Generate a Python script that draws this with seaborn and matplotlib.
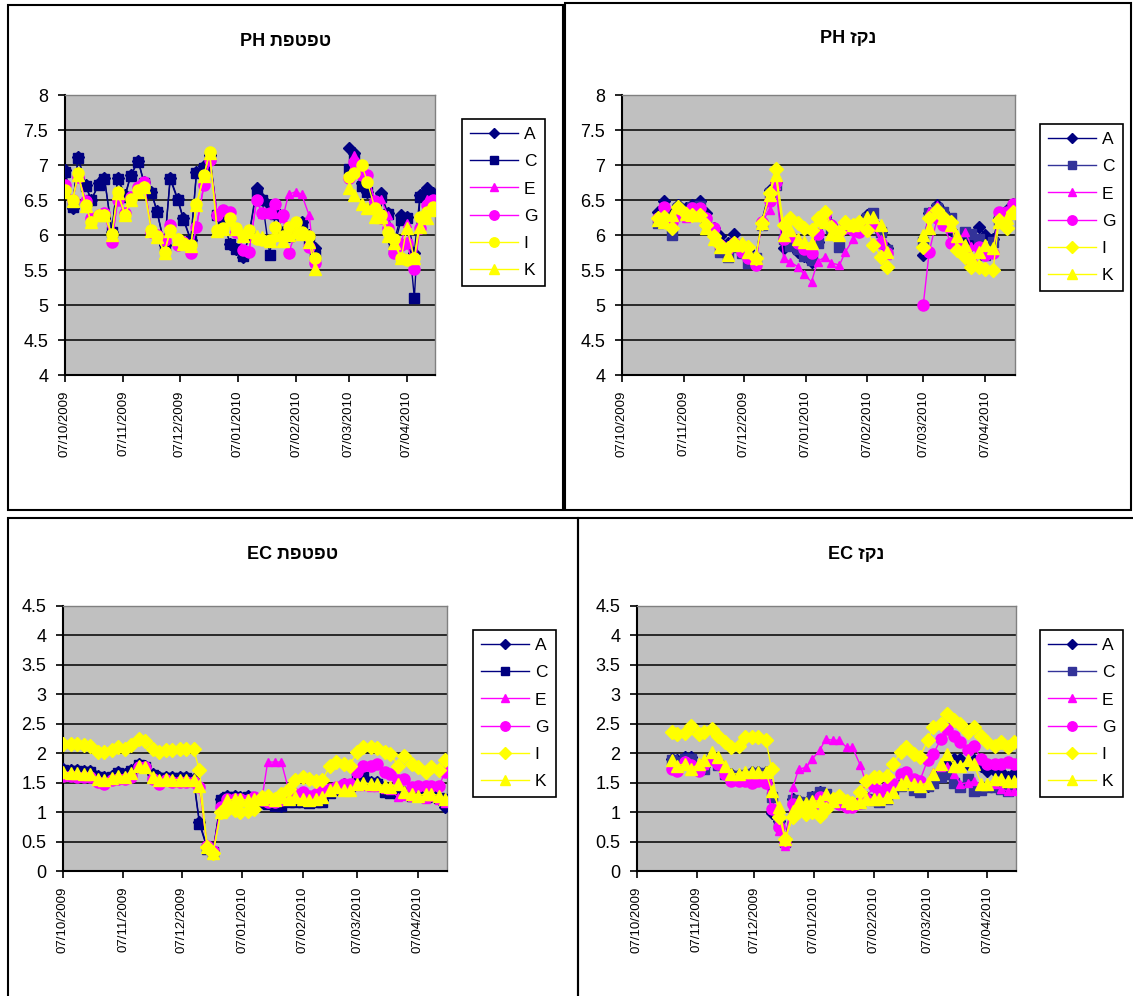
import numpy as np
import pandas as pd
import matplotlib
matplotlib.use("Agg")
import matplotlib.pyplot as plt
from matplotlib.lines import Line2D
from matplotlib.patches import Rectangle
import seaborn as sns

nan = np.nan

# measurement dates (twice a week)
dates = ['2009-10-07', '2009-10-11', '2009-10-14', '2009-10-18', '2009-10-21', '2009-10-25', '2009-10-28',
         '2009-11-01', '2009-11-04', '2009-11-08', '2009-11-11', '2009-11-15', '2009-11-18', '2009-11-22',
         '2009-11-25', '2009-11-29', '2009-12-02', '2009-12-06', '2009-12-09', '2009-12-13', '2009-12-16',
         '2009-12-20', '2009-12-23', '2009-12-27', '2009-12-30', '2010-01-03', '2010-01-06', '2010-01-10',
         '2010-01-13', '2010-01-17', '2010-01-20', '2010-01-24', '2010-01-27', '2010-01-31', '2010-02-03',
         '2010-02-07', '2010-02-10', '2010-02-14', '2010-02-17', '2010-02-21', '2010-02-24', '2010-02-28',
         '2010-03-03', '2010-03-07', '2010-03-10', '2010-03-14', '2010-03-17', '2010-03-21', '2010-03-24',
         '2010-03-28', '2010-03-31', '2010-04-04', '2010-04-07', '2010-04-11', '2010-04-14', '2010-04-18',
         '2010-04-21']

tick_dates = ['2009-10-07', '2009-11-07', '2009-12-07', '2010-01-07', '2010-02-07', '2010-03-07', '2010-04-07']
tick_labels = ['07/10/2009', '07/11/2009', '07/12/2009', '07/01/2010', '07/02/2010', '07/03/2010', '07/04/2010']

series_names = ['A', 'C', 'E', 'G', 'I', 'K']

# ---- pH, dripper (top left)
ph_drip_A = [6.93, 6.38, 7.12, 6.71, 6.50, 6.74, 6.82, 6.05, 6.82, 6.57, 6.86, 7.06, 6.76, 6.62, 6.34, 5.86, 6.82, 6.52, 6.24, 5.93,
             6.90, 6.98, 7.14, 6.29, 6.24, 5.87, 5.80, 5.69, 6.00, 6.67, 6.52, 6.43, 6.31, 6.05, 5.98, 6.05, 6.19, 6.00, 5.81,
             nan, nan, nan, nan, 7.25, 7.17, 6.74, 6.62, 6.43, 6.60, 6.31, 5.88, 6.29, 6.26, 5.74, 6.57, 6.67, 6.60]
ph_drip_C = [6.90, 6.40, 7.10, 6.70, 6.50, 6.72, 6.80, 6.05, 6.80, 6.55, 6.85, 7.05, 6.75, 6.60, 6.33, 5.85, 6.80, 6.50, 6.22, 5.92,
             6.88, 6.96, 7.12, 6.28, 6.22, 5.87, 5.80, 5.70, 6.00, 6.62, 6.50, 5.72, 6.30, 6.05, 5.98, 6.10, 6.17, 5.95, 5.72,
             nan, nan, nan, nan, 6.95, 7.10, 6.70, 6.62, 6.45, 6.55, 6.30, 5.80, 6.22, 6.25, 5.10, 6.55, 6.62, 6.55]
ph_drip_E = [6.71, 6.52, 6.85, 6.50, 6.26, 6.30, 6.32, 5.92, 6.50, 6.32, 6.56, 6.70, 6.76, 6.06, 6.00, 5.95, 6.15, 5.88, 5.90, 5.76,
             6.12, 6.72, 7.08, 6.30, 6.35, 6.32, 6.10, 5.80, 5.78, 6.50, 6.30, 6.32, 6.30, 6.25, 6.58, 6.62, 6.58, 6.28, 5.60,
             nan, nan, nan, nan, 6.85, 7.15, 6.90, 6.85, 6.50, 6.52, 6.28, 5.80, 5.90, 6.17, 5.60, 6.15, 6.52, 6.45]
ph_drip_G = [6.71, 6.50, 6.83, 6.48, 6.24, 6.29, 6.31, 5.90, 6.50, 6.31, 6.55, 6.69, 6.76, 6.05, 6.00, 5.93, 6.14, 5.86, 5.90, 5.74,
             6.12, 6.71, 7.07, 6.29, 6.36, 6.33, 6.05, 5.79, 5.76, 6.50, 6.31, 6.31, 6.45, 6.29, 5.74, 6.05, 6.02, 5.83, 5.60,
             nan, nan, nan, nan, 6.81, 7.05, 6.86, 6.86, 6.48, 6.24, 6.10, 5.74, 5.86, 5.88, 5.52, 6.10, 6.43, 6.50]
ph_drip_I = [6.64, 6.50, 6.88, 6.43, 6.19, 6.29, 6.29, 6.02, 6.62, 6.29, 6.52, 6.64, 6.69, 6.07, 5.98, 5.76, 6.07, 5.95, 5.88, 5.86,
             6.45, 6.86, 7.19, 6.07, 6.10, 6.24, 6.10, 6.00, 6.07, 5.95, 5.93, 5.93, 6.12, 5.98, 6.12, 6.19, 6.05, 5.98, 5.67,
             nan, nan, nan, nan, 6.83, 6.88, 7.00, 6.76, 6.38, 6.29, 6.05, 5.95, 5.67, 5.64, 5.67, 6.26, 6.33, 6.40]
ph_drip_K = [6.62, 6.48, 6.86, 6.42, 6.18, 6.28, 6.28, 6.00, 6.60, 6.28, 6.50, 6.62, 6.68, 6.06, 5.97, 5.75, 6.06, 5.94, 5.87, 5.85,
             6.43, 6.85, 7.17, 6.06, 6.09, 6.22, 6.08, 5.98, 6.05, 5.98, 5.97, 5.92, 6.00, 5.92, 6.00, 6.05, 6.02, 5.90, 5.52,
             nan, nan, nan, nan, 6.67, 6.57, 6.45, 6.38, 6.26, 6.26, 5.98, 5.88, 5.67, 6.10, 5.67, 6.12, 6.24, 6.36]

# ---- pH, drainage (top right)
ph_drain_A = [nan, nan, nan, nan, nan, 6.33, 6.48, 6.30, 6.43, 6.38, 6.43, 6.48, 6.31, 6.10, 5.98, 5.88, 6.02, 5.83, 5.79, 5.67,
              6.19, 6.64, 6.76, 5.81, 5.88, 5.76, 5.70, 5.62, 5.90, 6.26, 6.14, 6.05, 6.12, 6.10, 6.19, 6.29, 6.19, 6.05, 5.81,
              nan, nan, nan, nan, 5.71, 6.31, 6.43, 6.33, 6.07, 5.90, 5.95, 5.86, 6.12, 6.00, 5.95, 6.24, 6.36, 6.45]
ph_drain_C = [nan, nan, nan, nan, nan, 6.17, 6.35, 6.00, 6.38, 6.35, 6.40, 6.42, 6.19, 6.05, 5.76, 5.69, 5.83, 5.75, 5.60, 5.67,
              6.15, 6.60, 6.72, 5.95, 5.85, 5.80, 5.70, 5.65, 5.88, 6.22, 6.10, 5.83, 6.10, 6.10, 6.15, 6.25, 6.31, 6.05, 5.78,
              nan, nan, nan, nan, 5.90, 6.31, 6.38, 6.33, 6.24, 5.95, 6.05, 6.02, 5.95, 5.71, 5.90, 6.22, 6.30, 6.38]
ph_drain_E = [nan, nan, nan, nan, nan, 6.22, 6.40, 6.15, 6.35, 6.25, 6.38, 6.35, 6.25, 6.05, 5.85, 5.80, 5.85, 5.78, 5.70, 5.60,
              6.18, 6.36, 6.71, 5.67, 5.62, 5.55, 5.45, 5.33, 5.62, 5.69, 5.60, 5.57, 5.76, 5.95, 6.05, 6.15, 6.12, 5.95, 5.72,
              nan, nan, nan, nan, 5.85, 6.35, 6.43, 6.15, 6.10, 5.90, 6.05, 5.85, 5.83, 5.78, 5.80, 6.25, 6.30, 6.42]
ph_drain_G = [nan, nan, nan, nan, nan, 6.24, 6.40, 6.19, 6.29, 6.30, 6.38, 6.38, 6.24, 6.10, 5.86, 5.81, 5.88, 5.76, 5.67, 5.57,
              6.19, 6.48, 6.76, 5.95, 5.98, 5.88, 5.80, 5.74, 6.02, 6.29, 6.14, 6.05, 6.10, 6.07, 6.05, 6.17, 6.14, 5.88, 5.74,
              nan, nan, nan, nan, 5.00, 5.76, 6.24, 6.14, 5.88, 5.88, 5.74, 5.62, 5.83, 5.71, 5.74, 6.33, 6.33, 6.45]
ph_drain_I = [nan, nan, nan, nan, nan, 6.24, 6.26, 6.10, 6.40, 6.30, 6.29, 6.29, 6.14, 5.98, 5.86, 5.81, 5.88, 5.86, 5.83, 5.67,
              6.17, 6.60, 6.95, 6.14, 6.24, 6.17, 6.10, 6.07, 6.24, 6.33, 6.12, 6.05, 6.19, 6.15, 6.19, 6.07, 5.86, 5.69, 5.55,
              nan, nan, nan, nan, 5.83, 6.24, 6.36, 6.26, 6.19, 5.79, 5.69, 5.55, 5.55, 5.52, 5.50, 6.21, 6.10, 6.33]
ph_drain_K = [nan, nan, nan, nan, nan, 6.21, 6.19, 6.29, 6.40, 6.30, 6.29, 6.29, 6.10, 5.95, 5.83, 5.71, 5.86, 5.88, 5.76, 5.67,
              6.17, 6.57, 6.86, 6.00, 6.07, 5.95, 5.90, 5.88, 6.21, 6.19, 6.02, 6.00, 6.17, 6.15, 6.17, 6.26, 6.26, 6.14, 5.76,
              nan, nan, nan, nan, 6.00, 6.10, 6.36, 6.24, 6.14, 5.98, 5.86, 5.69, 5.76, 5.86, 5.81, 6.19, 6.24, 6.31]

# ---- EC, dripper (bottom left)
ec_drip_A = [1.74, 1.72, 1.72, 1.70, 1.70, 1.62, 1.60, 1.62, 1.68, 1.65, 1.71, 1.82, 1.79, 1.65, 1.60, 1.60, 1.60, 1.60, 1.60, 1.57,
             0.83, 0.40, 0.34, 1.22, 1.28, 1.28, 1.25, 1.28, 1.22, 1.17, 1.15, 1.14, 1.11, 1.20, 1.20, 1.20, 1.17, 1.20, 1.20,
             1.34, 1.40, 1.48, 1.45, 1.51, 1.60, 1.51, 1.51, 1.37, 1.37, 1.34, 1.34, 1.31, 1.31, 1.28, 1.28, 1.22, 1.08]
ec_drip_C = [1.72, 1.70, 1.70, 1.68, 1.68, 1.60, 1.58, 1.60, 1.66, 1.63, 1.70, 1.80, 1.77, 1.63, 1.58, 1.58, 1.58, 1.58, 1.58, 1.55,
             0.80, 0.38, 0.32, 1.20, 1.26, 1.26, 1.24, 1.26, 1.20, 1.15, 1.13, 1.11, 1.10, 1.18, 1.18, 1.18, 1.15, 1.18, 1.18,
             1.32, 1.38, 1.45, 1.45, 1.58, 1.60, 1.50, 1.48, 1.35, 1.33, 1.32, 1.30, 1.28, 1.28, 1.25, 1.27, 1.24, 1.22]
ec_drip_E = [1.62, 1.62, 1.60, 1.60, 1.60, 1.52, 1.49, 1.54, 1.57, 1.57, 1.60, 1.77, 1.76, 1.57, 1.49, 1.52, 1.51, 1.51, 1.51, 1.51,
             1.42, 0.43, 0.34, 1.08, 1.22, 1.22, 1.22, 1.20, 1.25, 1.22, 1.85, 1.85, 1.85, 1.35, 1.30, 1.32, 1.28, 1.30, 1.32,
             1.38, 1.40, 1.45, 1.45, 1.45, 1.45, 1.42, 1.42, 1.40, 1.38, 1.25, 1.28, 1.25, 1.25, 1.22, 1.25, 1.20, 1.15]
ec_drip_G = [1.62, 1.62, 1.60, 1.60, 1.60, 1.51, 1.48, 1.54, 1.57, 1.57, 1.60, 1.77, 1.77, 1.57, 1.48, 1.54, 1.51, 1.51, 1.51, 1.51,
             1.42, 0.43, 0.34, 1.08, 1.22, 1.22, 1.22, 1.20, 1.25, 1.20, 1.18, 1.18, 1.20, 1.31, 1.31, 1.34, 1.28, 1.31, 1.37,
             1.40, 1.42, 1.48, 1.48, 1.68, 1.79, 1.79, 1.82, 1.68, 1.65, 1.54, 1.57, 1.42, 1.45, 1.45, 1.45, 1.45, 1.68]
ec_drip_I = [2.15, 2.15, 2.15, 2.14, 2.13, 2.02, 2.02, 2.05, 2.10, 2.08, 2.14, 2.25, 2.21, 2.08, 2.02, 2.05, 2.05, 2.07, 2.07, 2.07,
             1.71, 0.40, 0.31, 1.00, 1.03, 1.03, 1.01, 1.02, 1.05, 1.25, 1.27, 1.22, 1.31, 1.40, 1.54, 1.60, 1.57, 1.52, 1.54,
             1.79, 1.85, 1.82, 1.79, 2.02, 2.10, 2.10, 2.09, 2.02, 1.99, 1.79, 1.96, 1.82, 1.77, 1.68, 1.77, 1.71, 1.88]
ec_drip_K = [1.68, 1.66, 1.66, 1.65, 1.65, 1.57, 1.55, 1.58, 1.62, 1.60, 1.66, 1.78, 1.76, 1.60, 1.55, 1.56, 1.55, 1.55, 1.55, 1.54,
             1.45, 0.40, 0.31, 1.00, 1.20, 1.22, 1.22, 1.20, 1.22, 1.22, 1.25, 1.20, 1.25, 1.22, 1.25, 1.22, 1.20, 1.22, 1.25,
             1.37, 1.42, 1.37, 1.37, 1.48, 1.50, 1.48, 1.48, 1.45, 1.43, 1.48, 1.34, 1.31, 1.28, 1.31, 1.31, 1.28, 1.22]

# ---- EC, drainage (bottom right)
ec_drain_A = [nan, nan, nan, nan, nan, 1.90, 1.88, 1.93, 1.93, 1.76, 1.78, 1.93, 1.85, 1.68, 1.65, 1.63, 1.65, 1.68, 1.68, 1.68,
              0.99, 0.85, 0.54, 1.22, 1.19, 1.16, 1.25, 1.34, 1.19, 1.22, 1.19, 1.14, 1.14, 1.18, 1.25, 1.22, 1.19, 1.25, 1.42,
              1.48, 1.59, 1.39, 1.36, 1.45, 1.53, 1.68, 1.85, 1.90, 1.90, 1.82, 1.88, 1.79, 1.70, 1.70, 1.68, 1.59, 1.66]
ec_drain_C = [nan, nan, nan, nan, nan, 1.88, 1.85, 1.90, 1.90, 1.73, 1.73, 1.90, 1.80, 1.65, 1.62, 1.62, 1.63, 1.65, 1.66, 1.65,
              1.25, 0.80, 0.50, 1.20, 1.18, 1.15, 1.25, 1.34, 1.30, 1.20, 1.18, 1.13, 1.12, 1.16, 1.22, 1.20, 1.18, 1.22, 1.40,
              1.45, 1.55, 1.38, 1.35, 1.45, 1.50, 1.60, 1.65, 1.50, 1.42, 1.56, 1.36, 1.38, 1.42, 1.42, 1.40, 1.36, 1.42]
ec_drain_E = [nan, nan, nan, nan, nan, 1.76, 1.80, 1.88, 1.80, 1.74, 1.80, 1.90, 1.82, 1.65, 1.55, 1.55, 1.55, 1.52, 1.55, 1.55,
              1.05, 0.68, 0.43, 1.42, 1.73, 1.76, 1.90, 2.05, 2.24, 2.22, 2.22, 2.10, 2.10, 1.80, 1.50, 1.48, 1.36, 1.28, 1.36,
              1.48, 1.55, 1.50, 1.45, 1.50, 1.68, 1.76, 1.79, 1.65, 1.48, 1.50, 1.52, 1.48, 1.48, 1.48, 1.39, 1.36, 1.36]
ec_drain_G = [nan, nan, nan, nan, nan, 1.73, 1.70, 1.85, 1.80, 1.70, 1.82, 1.90, 1.82, 1.65, 1.53, 1.53, 1.53, 1.50, 1.53, 1.50,
              1.05, 0.74, 0.48, 1.14, 1.08, 1.05, 1.08, 1.25, 1.19, 1.19, 1.14, 1.08, 1.08, 1.15, 1.22, 1.45, 1.34, 1.42, 1.48,
              1.65, 1.68, 1.56, 1.53, 1.88, 1.99, 2.24, 2.41, 2.30, 2.19, 2.05, 2.13, 1.90, 1.82, 1.82, 1.82, 1.85, 1.82]
ec_drain_I = [nan, nan, nan, nan, nan, 2.36, 2.33, 2.34, 2.47, 2.33, 2.36, 2.41, 2.30, 2.19, 2.10, 2.13, 2.27, 2.27, 2.27, 2.22,
              1.73, 0.91, 0.54, 0.91, 1.02, 0.97, 1.00, 0.94, 1.05, 1.22, 1.28, 1.19, 1.16, 1.35, 1.53, 1.59, 1.59, 1.62, 1.82,
              2.02, 2.10, 1.99, 1.93, 2.22, 2.44, 2.50, 2.67, 2.56, 2.50, 2.36, 2.44, 2.30, 2.19, 2.13, 2.19, 2.10, 2.19]
ec_drain_K = [nan, nan, nan, nan, nan, 1.88, 1.79, 1.82, 1.73, 1.82, 1.88, 2.02, 1.93, 1.79, 1.65, 1.65, 1.68, 1.68, 1.68, 1.68,
              1.36, 1.08, 0.54, 1.02, 1.19, 1.16, 1.19, 1.19, 1.31, 1.19, 1.25, 1.19, 1.16, 1.18, 1.22, 1.22, 1.22, 1.25, 1.34,
              1.48, 1.53, 1.48, 1.45, 1.50, 1.65, 1.82, 1.99, 1.79, 1.79, 1.88, 1.82, 1.48, 1.48, 1.56, 1.56, 1.53, 1.53]

W, H = 1133, 996

NAVY = '#000080'
SLATE = '#333399'
MAGENTA = '#FF00FF'
YELLOW = '#FFFF00'


def px_box(x0, y0, x1, y1):
    return [x0 / W, 1 - y1 / H, (x1 - x0) / W, (y1 - y0) / H]


def styles(c_color, i_marker):
    # marker, size, color per series (as in the Excel chart)
    return {'A': ('D', 6, NAVY), 'C': ('s', 7, c_color), 'E': ('^', 6, MAGENTA),
            'G': ('o', 8, MAGENTA), 'I': (i_marker, 8 if i_marker == 'o' else 7, YELLOW), 'K': ('^', 8, YELLOW)}


panels = [
    # hebrew title word, quantity, series, plot box, chart box, legend corner, C colour, I marker, y range
    dict(word='טפטפת', qty='PH', data=[ph_drip_A, ph_drip_C, ph_drip_E, ph_drip_G, ph_drip_I, ph_drip_K],
         ax=(65, 95, 435, 375), box=(8, 5, 563, 510), leg=(462, 119), c=NAVY, i='o', ylim=(4, 8)),
    dict(word='נקז', qty='PH', data=[ph_drain_A, ph_drain_C, ph_drain_E, ph_drain_G, ph_drain_I, ph_drain_K],
         ax=(622, 95, 1015, 375), box=(565, 3, 1131, 510), leg=(1040, 124), c=SLATE, i='D', ylim=(4, 8)),
    dict(word='טפטפת', qty='EC', data=[ec_drip_A, ec_drip_C, ec_drip_E, ec_drip_G, ec_drip_I, ec_drip_K],
         ax=(63, 606, 447, 871), box=(8, 518, 578, 1000), leg=(473, 630), c=NAVY, i='D', ylim=(0, 4.5)),
    dict(word='נקז', qty='EC', data=[ec_drain_A, ec_drain_C, ec_drain_E, ec_drain_G, ec_drain_I, ec_drain_K],
         ax=(637, 606, 1016, 871), box=(578, 518, 1135, 1000), leg=(1040, 630), c=SLATE, i='D', ylim=(0, 4.5)),
]

plt.rcParams['font.family'] = ['Liberation Sans', 'DejaVu Sans']

fig = plt.figure(figsize=(W / 100, H / 100), dpi=100)
fig.patch.set_facecolor('white')

x_dates = pd.to_datetime(dates)

for p in panels:
    # white chart area with black frame
    bx = px_box(*p['box'])
    fig.patches.append(Rectangle((bx[0], bx[1]), bx[2], bx[3], transform=fig.transFigure,
                                 fill=False, edgecolor='black', linewidth=1.5, zorder=0))
    ax = fig.add_axes(px_box(*p['ax']))
    ax.set_facecolor('#C0C0C0')

    st = styles(p['c'], p['i'])
    handles = []
    for name, vals in zip(series_names, p['data']):
        v = np.array(vals, dtype=float)
        # a new unit after every gap so the line breaks there
        seg = np.cumsum(np.isnan(v))
        df = pd.DataFrame({'date': x_dates, 'value': v, 'seg': seg}).dropna()
        m, ms, col = st[name]
        sns.lineplot(data=df, x='date', y='value', units='seg', estimator=None, sort=False,
                     color=col, marker=m, markersize=ms, markeredgecolor=col, markeredgewidth=1,
                     linewidth=1, legend=False, ax=ax, zorder=3)
        handles.append(Line2D([], [], color=col, marker=m, markersize=ms * 0.85,
                              markeredgecolor=col, linewidth=1))

    lo, hi = p['ylim']
    yt = np.arange(lo, hi + 0.01, 0.5)
    ax.set_ylim(lo, hi)
    ax.set_yticks(yt)
    ax.set_yticklabels(['%g' % t for t in yt], fontsize=13)
    ax.yaxis.grid(True, color='black', linewidth=1.1)
    ax.set_axisbelow(True)

    ax.set_xlim(pd.Timestamp('2009-10-07'), pd.Timestamp('2010-04-22'))
    ax.set_xticks(pd.to_datetime(tick_dates))
    ax.set_xticklabels(tick_labels, rotation=90, fontsize=9.5)
    ax.set_xlabel('')
    ax.set_ylabel('')
    ax.tick_params(axis='both', direction='out', length=5, width=1.2, color='black')
    ax.tick_params(axis='y', pad=7)
    ax.tick_params(axis='x', pad=6)

    for side in ['top', 'right']:
        ax.spines[side].set_color('#808080')
        ax.spines[side].set_linewidth(1)
    for side in ['left', 'bottom']:
        ax.spines[side].set_color('black')
        ax.spines[side].set_linewidth(1.5)

    lx, ly = p['leg']
    leg = ax.legend(handles, series_names, loc='upper left', bbox_to_anchor=(lx / W, 1 - ly / H),
                    bbox_transform=fig.transFigure, borderaxespad=0, fontsize=12.5, frameon=True,
                    fancybox=False, edgecolor='black', framealpha=1, labelspacing=0.7,
                    handlelength=2.8, handletextpad=0.3, borderpad=0.45)
    leg.get_frame().set_linewidth(1.2)

    # title: hebrew reversed for left-to-right drawing
    cx = (p['box'][0] + p['box'][2]) / 2
    ty = p['box'][1] + 36
    fig.text(cx / W, 1 - ty / H, p['qty'] + ' ' + p['word'][::-1], ha='center', va='center',
             fontsize=13, fontweight='bold')

fig.savefig('out.png', dpi=100, facecolor='white')
